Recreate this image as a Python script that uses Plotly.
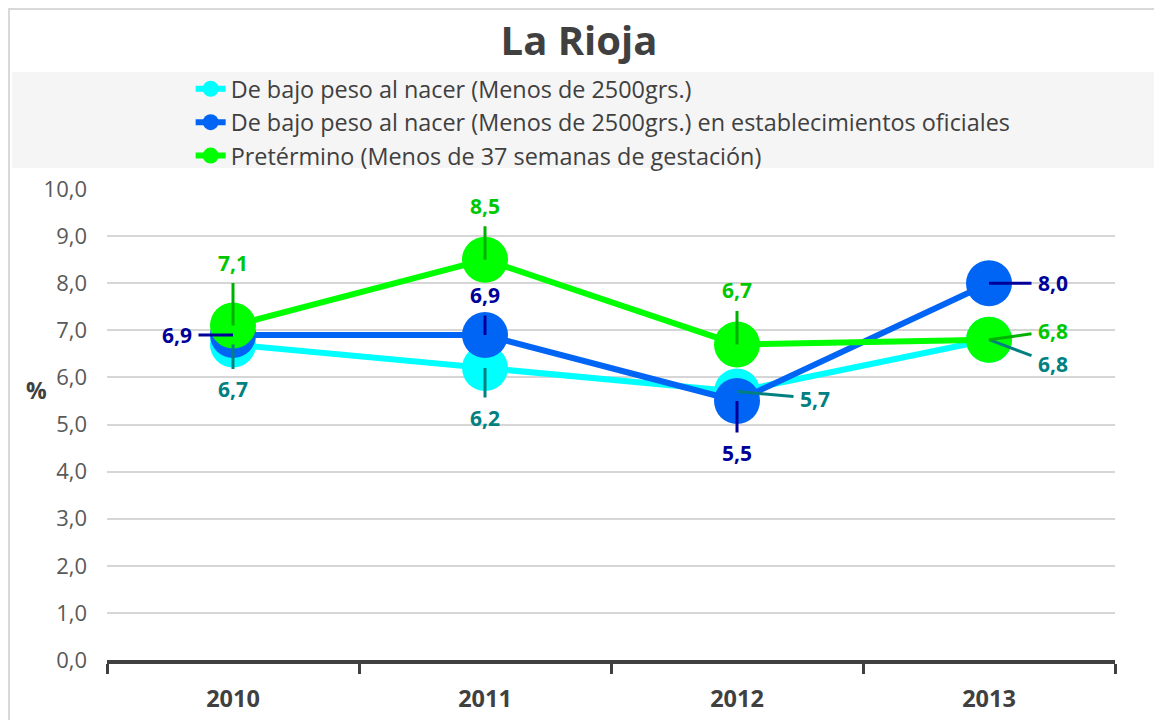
import plotly.graph_objects as go

years = ["2010", "2011", "2012", "2013"]
bajo_peso = [6.7, 6.2, 5.7, 6.8]
bajo_peso_oficiales = [6.9, 6.9, 5.5, 8.0]
pretermino = [7.1, 8.5, 6.7, 6.8]

names = [
    "De bajo peso al nacer (Menos de 2500grs.)",
    "De bajo peso al nacer (Menos de 2500grs.) en establecimientos oficiales",
    "Pretérmino (Menos de 37 semanas de gestación)",
]
y_ticks = [0, 1, 2, 3, 4, 5, 6, 7, 8, 9, 10]

FONT = "Open Sans"
series = [
    dict(name=names[0], y=bajo_peso, color="#00FFFF", label_color="#008080", lead="#008080",
         offsets=[(0, 45), (0, 50), (78, 7), (64, 24)]),
    dict(name=names[1], y=bajo_peso_oficiales, color="#0064F5", label_color="#000099", lead="#000099",
         offsets=[(-56, 0), (0, -40), (0, 52), (64, 0)]),
    dict(name=names[2], y=pretermino, color="#00FF00", label_color="#00C800", lead="#00B000",
         offsets=[(0, -63), (0, -54), (0, -54), (64, -9)]),
]

fig = go.Figure()
annotations = []
for s in series:
    fig.add_trace(go.Scatter(
        x=years, y=s["y"], name=s["name"], mode="lines+markers",
        line=dict(color=s["color"], width=6),
        marker=dict(color=s["color"], size=46),
        hoverinfo="skip",
    ))
    for i, (yv, (ax, ay)) in enumerate(zip(s["y"], s["offsets"])):
        annotations.append(dict(
            x=i, y=yv, xref="x", yref="y",
            text=f"<b>{yv:.1f}</b>".replace(".", ","),
            showarrow=True, arrowhead=0, arrowwidth=3, arrowcolor=s["lead"],
            standoff=0, ax=ax, ay=ay, borderpad=6,
            font=dict(family=FONT, size=21, color=s["label_color"]),
        ))

annotations.append(dict(
    x=-0.0823, y=0.573, xref="paper", yref="paper", text="<b>%</b>", showarrow=False,
    font=dict(family=FONT, size=23, color="#404040"),
))

shapes = [
    dict(type="rect", xref="paper", yref="paper", x0=-0.0942, x1=1.0427, y0=1.0446, y1=1.2484,
         fillcolor="#F5F5F5", line=dict(width=0), layer="below"),
    dict(type="rect", xref="paper", yref="paper", x0=-0.0972, x1=1.0427, y0=-0.2, y1=1.3822,
         fillcolor="rgba(0,0,0,0)", line=dict(color="#D9D9D9", width=2), layer="below"),
]

fig.update_layout(
    width=1154, height=712,
    margin=dict(l=99, r=47, t=181, b=60, autoexpand=False),
    paper_bgcolor="white", plot_bgcolor="white",
    font=dict(family=FONT, color="#404040"),
    title=dict(text="<b>La Rioja</b>", x=0.4948, xref="container", xanchor="center",
               y=1 - 33 / 712, yref="container", yanchor="middle",
               font=dict(family=FONT, size=40, color="#404040")),
    legend=dict(x=0.083, y=1.259, xanchor="left", yanchor="top", bgcolor="rgba(0,0,0,0)",
                font=dict(family=FONT, size=23.4, color="#404040")),
    showlegend=True,
    xaxis=dict(type="category", range=[-0.5, 3.5], showgrid=False, showline=True,
               linecolor="#404040", linewidth=4,
               ticks="outside", tickson="boundaries", ticklen=10, tickwidth=3, tickcolor="#404040",
               tickfont=dict(family=FONT, size=23.5, color="#404040", weight="bold"),
               tickangle=0, ticklabelstandoff=15, fixedrange=True),
    yaxis=dict(range=[0, 10], tickvals=y_ticks, tickformat=".1f", showgrid=True,
               gridcolor="#D6D6D6", gridwidth=2, zeroline=False, showline=False,
               tickfont=dict(family=FONT, size=22, color="#595959"),
               ticklabelstandoff=19, fixedrange=True),
    separators=",.",
    annotations=annotations,
    shapes=shapes,
)

fig.write_html("out.html")
